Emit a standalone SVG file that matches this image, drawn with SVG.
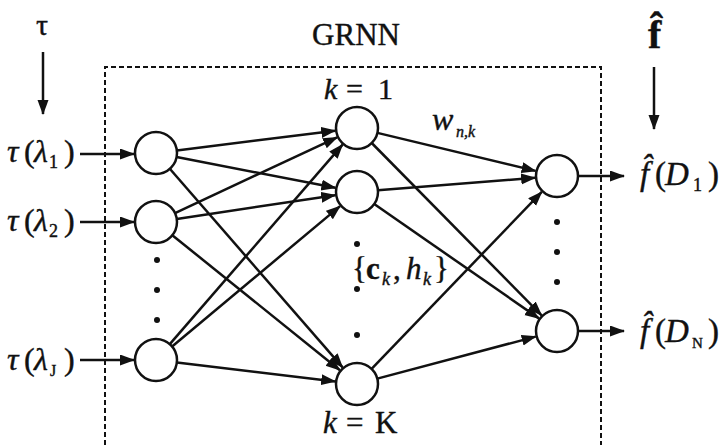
<svg xmlns="http://www.w3.org/2000/svg" width="726" height="445" viewBox="0 0 726 445">
<style>
.n{fill:#fff;stroke:#111;stroke-width:2.5}
.e{stroke:#111;stroke-width:2.5;fill:none;marker-end:url(#ah)}
.t{font-family:"Liberation Serif","Times New Roman",serif;fill:#111;stroke:#111;stroke-width:0.4}
.i{font-style:italic}
.b{font-weight:bold}
.d{fill:#111}
.box{fill:none;stroke:#111;stroke-width:2;stroke-dasharray:5 3}
</style>
<defs>
<marker id="ah" markerUnits="userSpaceOnUse" markerWidth="16" markerHeight="12" refX="14" refY="5.5" orient="auto">
<path d="M0,0 L15,5.5 L0,11 z" fill="#111"/>
</marker>
</defs>
<rect width="726" height="445" fill="#fff"/>
<path class="box" d="M105,445 V67 H601 V445"/>
<text class="t" x="356" y="45" font-size="31" text-anchor="middle">GRNN</text>

<g id="connectors">
<path class="e" d="M43,52 V114"/>
<path class="e" d="M654,67 V129"/>
<path class="e" d="M80,154 H134"/>
<path class="e" d="M80,222 H134"/>
<path class="e" d="M80,360 H134"/>
<path class="e" d="M176.8,150.4 L335.2,130.7"/>
<path class="e" d="M176.6,157.0 L335.4,187.8"/>
<path class="e" d="M169.8,168.8 L342.6,367.4"/>
<path class="e" d="M175.0,213.1 L337.1,137.3"/>
<path class="e" d="M176.8,218.9 L335.2,195.2"/>
<path class="e" d="M172.3,235.2 L339.9,370.2"/>
<path class="e" d="M169.8,344.1 L342.6,144.6"/>
<path class="e" d="M172.1,346.5 L340.1,206.1"/>
<path class="e" d="M176.9,362.5 L335.2,381.4"/>
<path class="e" d="M377.4,132.9 L535.6,170.9"/>
<path class="e" d="M371.7,143.0 L541.6,315.3"/>
<path class="e" d="M377.9,190.3 L535.1,177.8"/>
<path class="e" d="M374.2,204.0 L538.9,318.4"/>
<path class="e" d="M371.6,368.9 L541.8,191.9"/>
<path class="e" d="M377.3,378.6 L535.7,336.6"/>
<path class="e" d="M578,176 H624"/>
<path class="e" d="M578,331 H624"/>
</g>

<g id="input-labels">
<text class="t" x="42" y="35" font-size="30" text-anchor="middle">τ</text>
<text class="t" font-size="32" y="162"><tspan class="i" x="7">τ</tspan><tspan x="24">(</tspan><tspan class="i" x="34">λ</tspan><tspan x="49" y="168" font-size="18">1</tspan><tspan x="64" y="162">)</tspan></text>
<text class="t" font-size="32" y="231"><tspan class="i" x="7">τ</tspan><tspan x="24">(</tspan><tspan class="i" x="34">λ</tspan><tspan x="49" y="237" font-size="18">2</tspan><tspan x="64" y="231">)</tspan></text>
<text class="t" font-size="32" y="370"><tspan class="i" x="7">τ</tspan><tspan x="24">(</tspan><tspan class="i" x="34">λ</tspan><tspan x="50" y="376" font-size="16">J</tspan><tspan x="64" y="370">)</tspan></text>
</g>

<g id="input-1"><circle class="n" cx="156" cy="153" r="21"/></g>
<g id="input-2"><circle class="n" cx="156" cy="222" r="21"/></g>
<g id="input-dots"><circle class="d" cx="157" cy="260" r="3"/><circle class="d" cx="157" cy="290" r="3"/><circle class="d" cx="157" cy="320" r="3"/></g>
<g id="input-J"><circle class="n" cx="156" cy="360" r="21"/></g>

<g id="hidden-1"><circle class="n" cx="357" cy="128" r="21"/>
<text class="t" font-size="30" y="99"><tspan class="i" x="324">k</tspan><tspan x="346">=</tspan><tspan x="378">1</tspan></text>
</g>
<g id="hidden-2"><circle class="n" cx="357" cy="192" r="21"/></g>
<g id="hidden-dots"><circle class="d" cx="357" cy="244" r="3"/><circle class="d" cx="357" cy="289" r="3"/><circle class="d" cx="357" cy="335" r="3"/>
<text class="t" font-size="31" y="279"><tspan x="352">{</tspan><tspan class="b" x="366">c</tspan><tspan class="i" x="382" y="285" font-size="18">k</tspan><tspan x="393" y="279">,</tspan><tspan class="i" x="406">h</tspan><tspan class="i" x="423" y="285" font-size="18">k</tspan><tspan x="434" y="279">}</tspan></text>
</g>
<g id="hidden-K"><circle class="n" cx="357" cy="384" r="21"/>
<text class="t" font-size="31" y="433"><tspan class="i" x="323">k</tspan><tspan x="346">=</tspan><tspan x="375">K</tspan></text>
</g>

<g id="weight-label">
<text class="t i" font-size="32" x="432" y="130">w</text>
<text class="t i" font-size="16" x="456" y="137">n,k</text>
</g>

<g id="output-1"><circle class="n" cx="557" cy="176" r="21"/></g>
<g id="output-dots"><circle class="d" cx="557" cy="222" r="3"/><circle class="d" cx="557" cy="252" r="3"/><circle class="d" cx="557" cy="282" r="3"/></g>
<g id="output-N"><circle class="n" cx="557" cy="331" r="21"/></g>

<g id="output-labels">
<text class="t b" font-size="40" x="648" y="48">f̂</text>
<text class="t" font-size="33"><tspan class="i" x="640" y="185">f̂</tspan><tspan x="655" y="185">(</tspan><tspan class="i" x="665">D</tspan><tspan x="693" y="191" font-size="18">1</tspan><tspan x="708" y="185">)</tspan></text>
<text class="t" font-size="33"><tspan class="i" x="640" y="342">f̂</tspan><tspan x="655" y="342">(</tspan><tspan class="i" x="665">D</tspan><tspan x="692" y="348" font-size="15">N</tspan><tspan x="708" y="342">)</tspan></text>
</g>
</svg>
